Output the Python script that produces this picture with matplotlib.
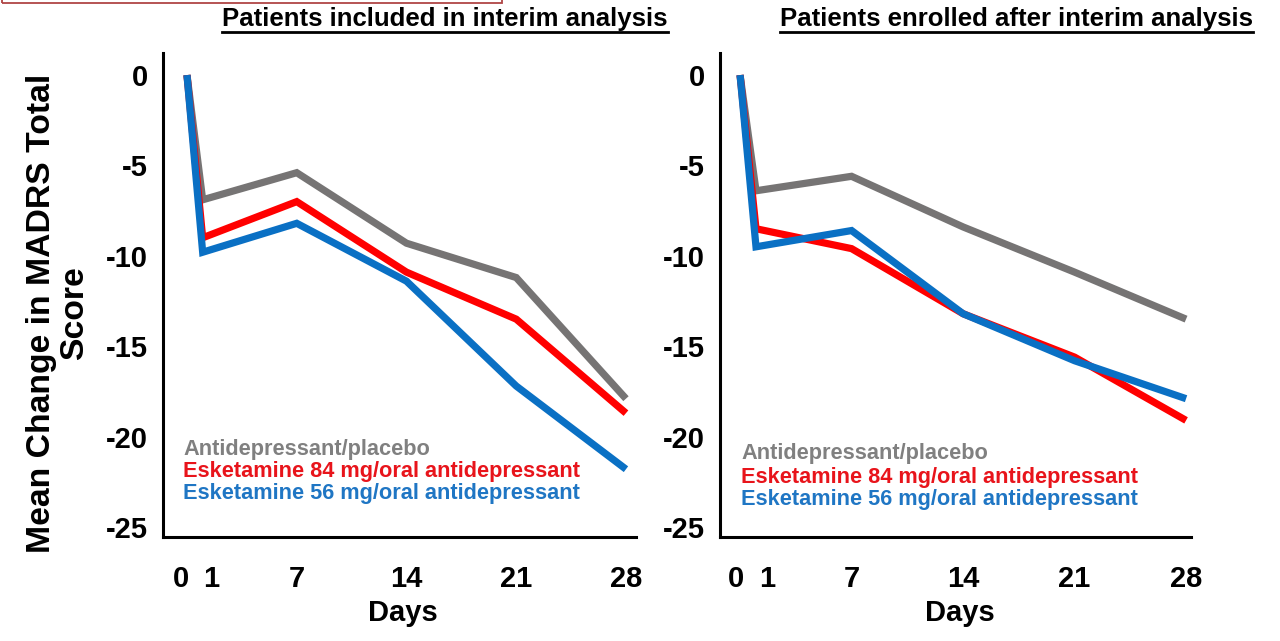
import matplotlib
matplotlib.use("Agg")
import matplotlib.pyplot as plt
from matplotlib.patches import Rectangle
from matplotlib.lines import Line2D
from matplotlib.transforms import ScaledTranslation

plt.rcParams['font.family'] = ['Liberation Sans', 'DejaVu Sans']
plt.rcParams['font.weight'] = 'bold'

# ---- data ----
days = [0, 1, 7, 14, 21, 28]
tick_labels = ["0", "1", "7", "14", "21", "28"]
yticks = [0, -5, -10, -15, -20, -25]

series_names = ["Antidepressant/placebo",
                "Esketamine 84 mg/oral antidepressant",
                "Esketamine 56 mg/oral antidepressant"]

# Panel 1: patients included in interim analysis
interim_placebo = [0, -6.9, -5.4, -9.3, -11.2, -17.9]
interim_esk84 = [0, -9.0, -7.0, -10.9, -13.5, -18.7]
interim_esk56 = [0, -9.8, -8.2, -11.4, -17.2, -21.8]

# Panel 2: patients enrolled after interim analysis
after_placebo = [0, -6.4, -5.6, -8.4, -10.9, -13.5]
after_esk84 = [0, -8.5, -9.6, -13.2, -15.6, -19.1]
after_esk56 = [0, -9.5, -8.6, -13.2, -15.8, -17.9]

titles = ["Patients included in interim analysis",
          "Patients enrolled after interim analysis"]

line_colors = ["#767474", "#ff0000", "#0a70c4"]
text_colors = ["#808080", "#e8141b", "#1f76c4"]

W, H = 1280, 641
fig = plt.figure(figsize=(W / 100, H / 100), dpi=100)


def fx(px):
    return px / W


def fy(py):
    return 1 - py / H


panels = [
    dict(rect=[fx(163), fy(537), fx(636) - fx(163), fy(53) - fy(537)],
         xlim=(-1.53, 28.64), data=[interim_placebo, interim_esk84, interim_esk56],
         title_x=445, legend_x=183, legend_y=[450, 472, 494], days_x=403,
         label_shift=[-6, 9, 0, 0, 0, 0]),
    dict(rect=[fx(720), fy(537), fx(1191) - fx(720), fy(53) - fy(537)],
         xlim=(-1.26, 28.31), data=[after_placebo, after_esk84, after_esk56],
         title_x=1016, legend_x=741, legend_y=[453, 477, 500], days_x=960,
         label_shift=[-4, 11, 0, 0, 0, 0]),
]

axes = []
title_texts = []
for i, p in enumerate(panels):
    ax = fig.add_axes(p["rect"])
    axes.append(ax)
    for vals, c in zip(p["data"], line_colors):
        ax.plot(days, vals, color=c, lw=5.2, solid_joinstyle='miter',
                solid_capstyle='butt', clip_on=False)
    ax.set_xlim(*p["xlim"])
    ax.set_ylim(-25.55, 1.22)
    ax.set_xticks(days)
    ax.set_xticklabels(tick_labels)
    ax.set_yticks(yticks)
    ax.set_yticklabels([str(v) for v in yticks])
    ax.tick_params(axis='both', length=0, labelsize=21)
    ax.tick_params(axis='x', pad=20)
    ax.tick_params(axis='y', pad=11)
    for lab in ax.get_xticklabels() + ax.get_yticklabels():
        lab.set_fontweight('bold')
    for s in ['top', 'right']:
        ax.spines[s].set_visible(False)
    for s in ['left', 'bottom']:
        ax.spines[s].set_linewidth(2.2)
        ax.spines[s].set_color('black')
    ax.patch.set_alpha(0)
    # legend as coloured text
    for name, c, ly in zip(series_names, text_colors, p["legend_y"]):
        fig.text(fx(p["legend_x"]), fy(ly), name, color=c, fontsize=15.7,
                 fontweight='bold', ha='left', va='center')
    fig.text(fx(p["days_x"]), fy(613), "Days", fontsize=21, fontweight='bold',
             ha='center', va='center')
    t = fig.text(fx(p["title_x"]), fy(19), titles[i], fontsize=18.5,
                 fontweight='bold', ha='center', va='center')
    title_texts.append(t)

# y label (two lines)
fig.text(fx(58), fy(313), "Mean Change in MADRS Total\nScore", rotation=90,
         fontsize=24.3, fontweight='bold', ha='center', va='center',
         multialignment='center', linespacing=1.05)

# underline the titles
fig.canvas.draw()
renderer = fig.canvas.get_renderer()
for t in title_texts:
    bb = t.get_window_extent(renderer)
    yline = bb.y0 - 1
    fig.add_artist(Line2D([bb.x0 / W, bb.x1 / W], [yline / H, yline / H],
                          transform=fig.transFigure, color='black', lw=2.0))

# nudge the crowded "0" / "1" day labels apart
for ax, p in zip(axes, panels):
    for tick, dx in zip(ax.xaxis.get_major_ticks(), p["label_shift"]):
        if dx:
            lab = tick.label1
            lab.set_transform(lab.get_transform() +
                              ScaledTranslation(dx / 100, 0, fig.dpi_scale_trans))

# red framed box partially visible at the top-left edge
fig.add_artist(Rectangle((fx(2), fy(3)), fx(502) - fx(2), 0.05,
                         transform=fig.transFigure, fill=False,
                         edgecolor='#b04545', lw=1.3, clip_on=False))

fig.savefig("out.png", dpi=100)
